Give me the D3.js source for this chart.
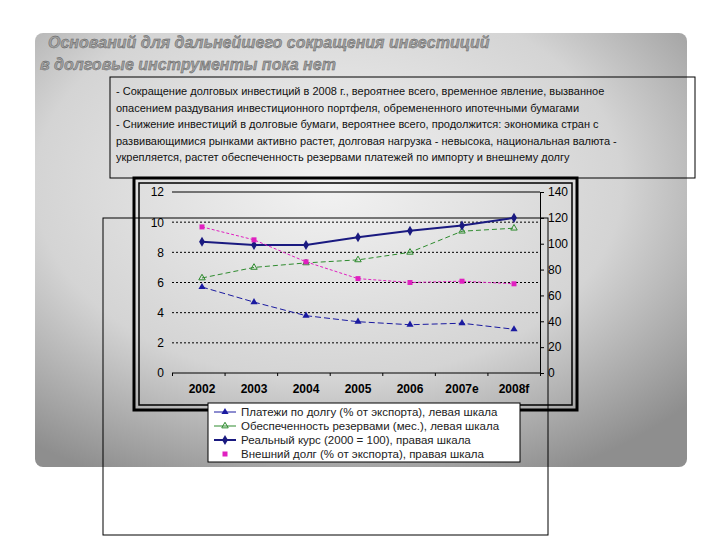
<!DOCTYPE html><html><head><meta charset="utf-8"><script src="https://cdn.jsdelivr.net/npm/d3@7"></script>
<style>body{margin:0;background:#fff}</style></head><body><svg id="s" width="720" height="540"></svg><script>
const categories=["2002","2003","2004","2005","2006","2007e","2008f"];
const payments=[5.7,4.7,3.8,3.4,3.2,3.3,2.9];
const reserves=[6.3,7.0,7.3,7.5,8.0,9.4,9.6];
const realRate=[101.5,99,99,105,110,114,120];
const extDebt=[113,103,86,73,70,71,69];
const leftTicks=[0,2,4,6,8,10,12];
const rightTicks=[0,20,40,60,80,100,120,140];
const legendLabels=["Платежи по долгу (% от экспорта), левая шкала","Обеспеченность резервами (мес.), левая шкала","Реальный курс (2000 = 100), правая шкала","Внешний долг (% от экспорта), правая шкала"];
const svg=d3.select("#s");
const defs=svg.append("defs");
const g=defs.append("radialGradient").attr("id","bg").attr("cx","45%").attr("cy","35%").attr("r","75%");
g.append("stop").attr("offset","0").attr("stop-color","#f2f2f2");
g.append("stop").attr("offset","0.6").attr("stop-color","#d4d4d4");
g.append("stop").attr("offset","1").attr("stop-color","#8e8e8e");
svg.append("rect").attr("x",35).attr("y",33).attr("width",652).attr("height",434).attr("rx",8).attr("fill","url(#bg)");
const tt=svg.append("text").attr("font-family","Arial").attr("font-weight","bold").attr("font-style","italic").attr("font-size",16).attr("fill","#a0a0a0").attr("stroke","#555").attr("stroke-width",0.4);
tt.append("tspan").attr("x",48).attr("y",48).text("Оснований для дальнейшего сокращения инвестиций");
tt.append("tspan").attr("x",40).attr("y",70).text("в долговые инструменты пока нет");
svg.append("rect").attr("x",110).attr("y",77).attr("width",585).attr("height",101).attr("fill","none").attr("stroke","#000");
const tx=svg.append("text").attr("font-family","Arial").attr("font-size",11).attr("fill","#111");
["- Сокращение долговых инвестиций в 2008 г., вероятнее всего, временное явление, вызванное","опасением раздувания инвестиционного портфеля, обремененного ипотечными бумагами","- Снижение инвестиций в долговые бумаги, вероятнее всего, продолжится: экономика стран с","развивающимися рынками активно растет, долговая нагрузка - невысока, национальная валюта -","укрепляется, растет обеспеченность резервами платежей по импорту и внешнему долгу"].forEach((l,i)=>tx.append("tspan").attr("x",116).attr("y",95+i*16.5).text(l));
// frames
svg.append("rect").attr("x",134).attr("y",178).attr("width",443).attr("height",232).attr("fill","none").attr("stroke","#000").attr("stroke-width",3);
svg.append("rect").attr("x",139).attr("y",183).attr("width",433).attr("height",222).attr("fill","none").attr("stroke","#000").attr("stroke-width",1.5);
svg.append("rect").attr("x",103).attr("y",218).attr("width",445).attr("height",317).attr("fill","none").attr("stroke","#000").attr("stroke-width",1);
const x=d3.scalePoint().domain(categories).range([202,514]);
const yl=d3.scaleLinear().domain([0,12]).range([373,192]);
const yr=d3.scaleLinear().domain([0,140]).range([373,192]);
const L=172,R=540;
leftTicks.filter(t=>t>0&&t<12).forEach(t=>svg.append("line").attr("x1",L).attr("x2",R).attr("y1",yl(t)).attr("y2",yl(t)).attr("stroke","#000").attr("stroke-dasharray","2,2"));
svg.append("line").attr("x1",L).attr("x2",R).attr("y1",yl(12)).attr("y2",yl(12)).attr("stroke","#000");
const ax=svg.append("g").attr("transform",`translate(0,${yl(0)})`).call(d3.axisBottom(d3.scaleLinear().domain([0,7]).range([L,R])).ticks(7).tickSize(3).tickFormat(""));
ax.select(".domain").attr("d",`M${L},0H${R}`);
svg.append("g").attr("transform",`translate(${L},0)`).call(d3.axisLeft(yl).tickValues(leftTicks).tickSize(0).tickPadding(8)).call(a=>a.select(".domain").remove());
svg.append("g").attr("transform",`translate(${R},0)`).call(d3.axisRight(yr).tickValues(rightTicks).tickSize(4).tickPadding(4));
svg.selectAll(".tick text").attr("font-family","Arial").attr("font-size",12).attr("fill","#000");
categories.forEach(c=>svg.append("text").attr("x",x(c)).attr("y",393).attr("text-anchor","middle").attr("font-family","Arial").attr("font-weight","bold").attr("font-size",12).text(c));
const series=[
 {d:payments,y:yl,c:"#1a1aa0",dash:"6,3",w:1,m:"tri"},
 {d:reserves,y:yl,c:"#2e8b2e",dash:"5,3",w:1,m:"otri"},
 {d:realRate,y:yr,c:"#1a1a80",dash:null,w:2,m:"dia"},
 {d:extDebt,y:yr,c:"#e020c0",dash:"3,2",w:1,m:"sq"}];
const line=(s)=>d3.line().x((d,i)=>x(categories[i])).y(d=>s.y(d));
function marker(sel,m,c,px,py){
 if(m=="tri")sel.append("path").attr("d",d3.symbol(d3.symbolTriangle,22)()).attr("transform",`translate(${px},${py})`).attr("fill",c);
 if(m=="otri")sel.append("path").attr("d",d3.symbol(d3.symbolTriangle,18)()).attr("transform",`translate(${px},${py})`).attr("fill","none").attr("stroke",c);
 if(m=="dia")sel.append("path").attr("d",d3.symbol(d3.symbolDiamond,30)()).attr("transform",`translate(${px},${py})`).attr("fill",c);
 if(m=="sq")sel.append("rect").attr("x",px-2.5).attr("y",py-2.5).attr("width",5).attr("height",5).attr("fill",c);
}
series.forEach(s=>{
 svg.append("path").attr("d",line(s)(s.d)).attr("fill","none").attr("stroke",s.c).attr("stroke-width",s.w).attr("stroke-dasharray",s.dash);
 s.d.forEach((v,i)=>marker(svg,s.m,s.c,x(categories[i]),s.y(v)));
});
svg.append("rect").attr("x",208).attr("y",403).attr("width",312).attr("height",59).attr("fill","#fff").attr("stroke","#000");
legendLabels.forEach((l,i)=>{const yy=412+i*14;const s=series[i];
 if(i<3)svg.append("line").attr("x1",214).attr("x2",236).attr("y1",yy).attr("y2",yy).attr("stroke",s.c).attr("stroke-width",s.w);
 marker(svg,s.m,s.c,225,yy);
 svg.append("text").attr("x",241).attr("y",yy+4).attr("font-family","Arial").attr("font-size",11.5).attr("fill","#222").text(l);});
</script></body></html>
